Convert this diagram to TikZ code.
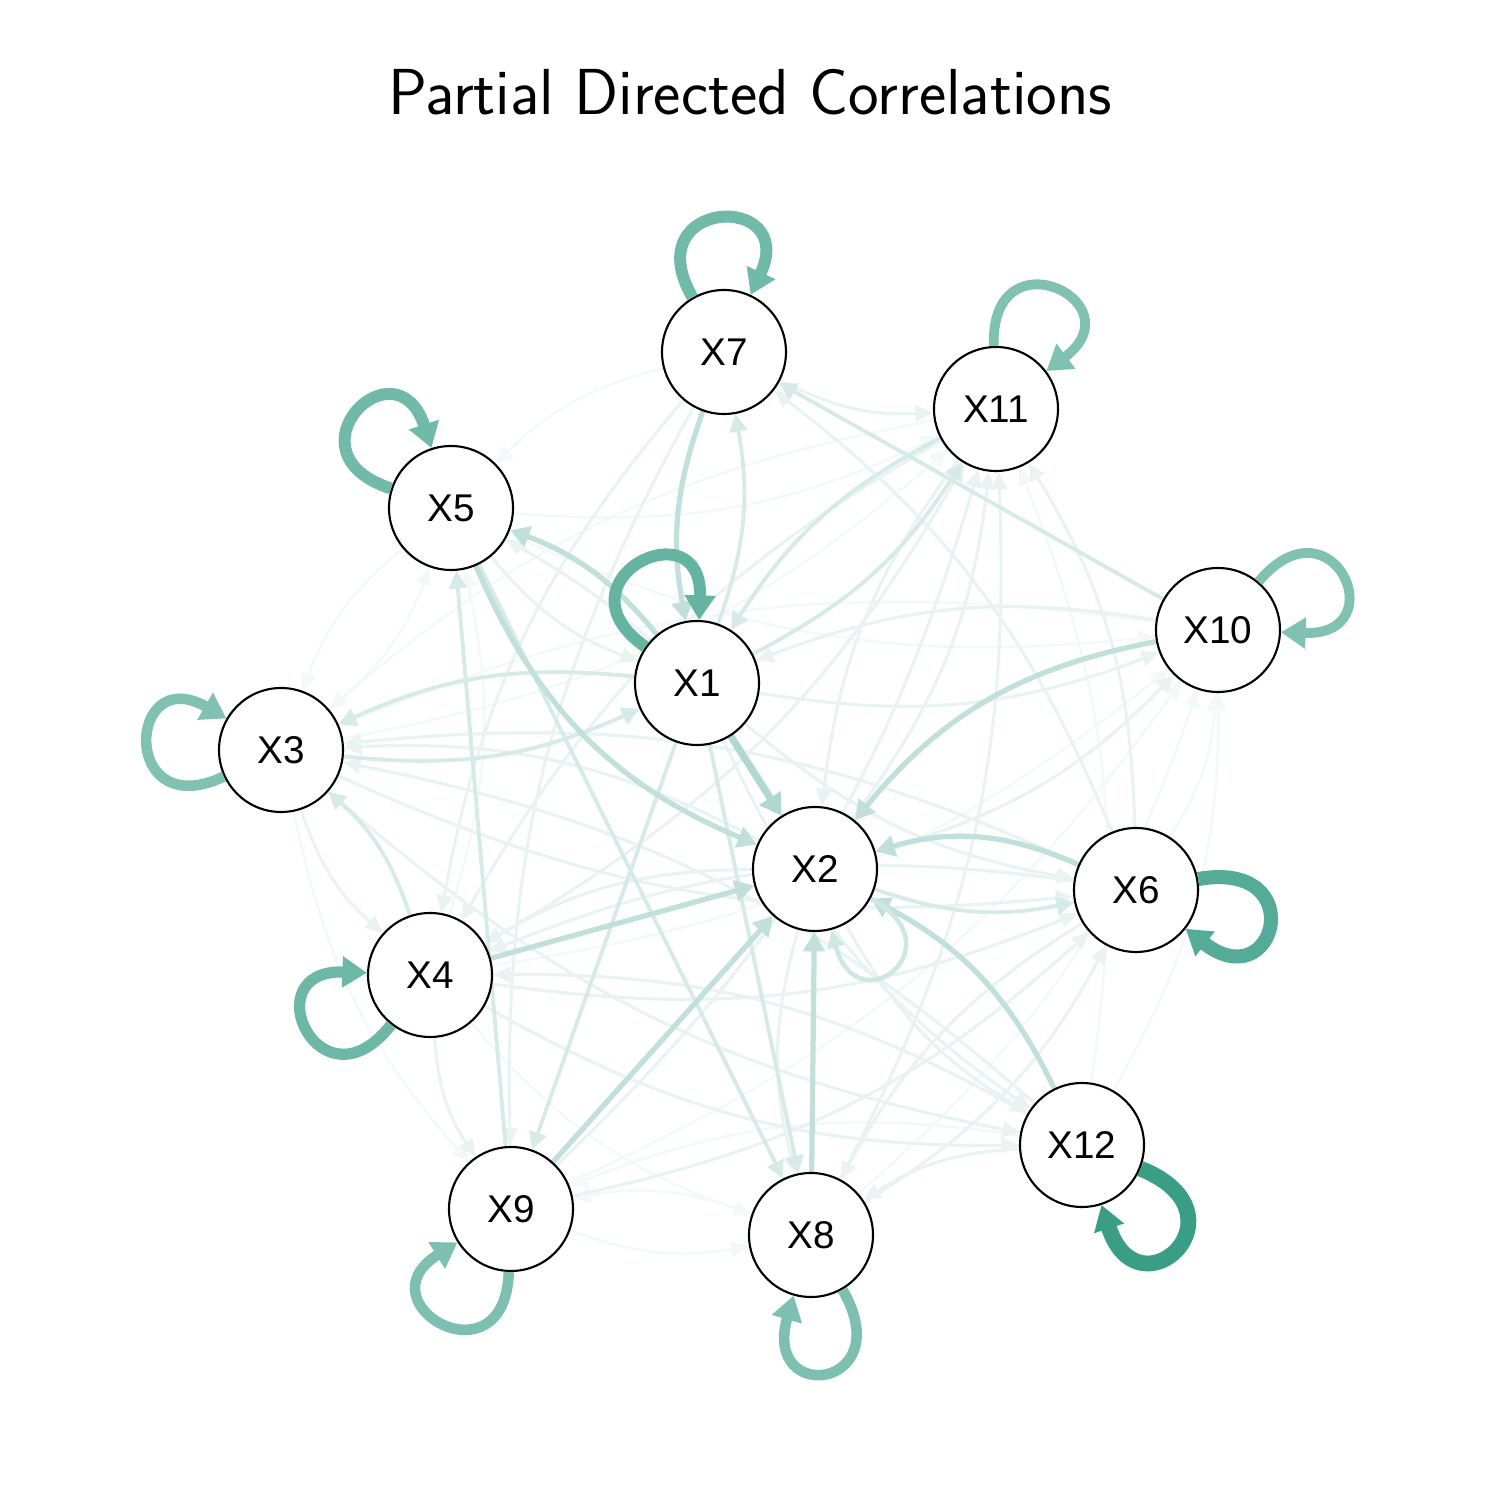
\documentclass[tikz,border=0pt]{standalone}
\usepackage{fontspec}
\usetikzlibrary{arrows.meta, backgrounds}
\newfontfamily\nodefont{Liberation Sans}
\definecolor{pdcteal}{RGB}{58,158,135}

\begin{document}
\begin{tikzpicture}[
  var/.style={draw, circle, fill=white, line width=0.6pt, minimum size=1.24cm,
              inner sep=0pt, font=\nodefont\fontsize{11}{13}\selectfont},
  eA/.style={-{Triangle[length=6pt, width=7pt]}, draw=pdcteal!40, line width=2pt},
  eB/.style={-{Triangle[length=5.5pt, width=6pt]}, draw=pdcteal!32, line width=1.5pt},
  eC/.style={-{Triangle[length=5pt, width=5pt]}, draw=pdcteal!21, line width=1.1pt},
  eD/.style={-{Triangle[length=5pt, width=4.5pt]}, draw=pdcteal!11, line width=0.9pt},
  eE/.style={-{Triangle[length=5pt, width=4.5pt]}, draw=pdcteal!6, line width=0.7pt},
  lp/.style={-{Triangle[length=7pt, width=8.5pt]}, distance=1.15cm},
  tw/.style={bend right=15}]
\useasboundingbox (0,0) rectangle (15,15);
\node[font=\sffamily\fontsize{18.5}{22}\selectfont] (title) at (7.5,14.08) {Partial Directed Correlations};

% variables
\node[var] (X1) at (6.97,8.17) {X1};
\node[var] (X2) at (8.15,6.31) {X2};
\node[var] (X3) at (2.81,7.50) {X3};
\node[var] (X4) at (4.30,5.25) {X4};
\node[var] (X5) at (4.51,9.92) {X5};
\node[var] (X6) at (11.36,6.10) {X6};
\node[var] (X7) at (7.24,11.48) {X7};
\node[var] (X8) at (8.11,2.65) {X8};
\node[var] (X9) at (5.11,2.91) {X9};
\node[var] (X10) at (12.18,8.70) {X10};
\node[var] (X11) at (9.96,10.91) {X11};
\node[var] (X12) at (10.82,3.55) {X12};

\begin{scope}[on background layer]
% very weak edges
\draw[eE] (X10) to[tw] (X3); \draw[eE] (X5) to[tw] (X3); \draw[eE] (X3) to[tw] (X9);
\draw[eE] (X7) to[tw] (X5); \draw[eE] (X4) to[tw] (X5); \draw[eE] (X3) to[tw] (X5);
\draw[eE] (X5) to[tw] (X11); \draw[eE] (X5) to[tw] (X10); \draw[eE] (X3) to[tw] (X11);
\draw[eE] (X11) to[tw] (X3); \draw[eE] (X9) to[tw] (X10); \draw[eE] (X6) to[tw] (X10);
\draw[eE] (X12) to[tw] (X10); \draw[eE] (X12) to[tw] (X9); \draw[eE] (X12) to[tw] (X11);
\draw[eE] (X9) to[tw] (X8); \draw[eE] (X8) to[tw] (X9); \draw[eE] (X4) to[tw] (X8);
\draw[eE] (X4) to[tw] (X10); \draw[eE] (X8) to[tw] (X10);
% weak edges
\draw[eD] (X2) to[tw] (X3); \draw[eD] (X6) to[tw] (X3); \draw[eD] (X12) to[tw] (X3);
\draw[eD] (X3) to[tw] (X4); \draw[eD] (X3) to[tw] (X6); \draw[eD] (X3) to[tw] (X12);
\draw[eD] (X5) to[tw] (X1); \draw[eD] (X2) to[tw] (X5); \draw[eD] (X6) to[tw] (X7);
\draw[eD] (X7) to[tw] (X11); \draw[eD] (X7) to[tw] (X9); \draw[eD] (X7) to[tw] (X4);
\draw[eD] (X6) to[tw] (X11); \draw[eD] (X4) to[tw] (X11); \draw[eD] (X2) to[tw] (X11);
\draw[eD] (X8) to[tw] (X11); \draw[eD] (X11) to[tw] (X2); \draw[eD] (X11) to[tw] (X4);
\draw[eD] (X10) to[tw] (X1); \draw[eD] (X1) to[tw] (X10); \draw[eD] (X2) to[tw] (X10);
\draw[eD] (X4) to[tw] (X6); \draw[eD] (X1) to[tw] (X6); \draw[eD] (X9) to[tw] (X6);
\draw[eD] (X8) to[tw] (X6); \draw[eD] (X6) to[tw] (X8); \draw[eD] (X6) to[tw] (X4);
\draw[eD] (X4) to[tw] (X12); \draw[eD] (X1) to[tw] (X12); \draw[eD] (X2) to[tw] (X12);
\draw[eD] (X12) to[tw] (X8); \draw[eD] (X12) to[tw] (X4); \draw[eD] (X4) to[tw] (X9);
\draw[eD] (X2) to[tw] (X8); \draw[eD] (X9) to[tw] (X11); \draw[eD] (X2) to[tw] (X4);
% medium edges
\draw[eC] (X1) to[tw] (X7); \draw[eC] (X1) to[tw] (X11); \draw[eC] (X11) to[tw] (X1);
\draw[eC] (X1) -- (X9); \draw[eC] (X1) -- (X8); \draw[eC] (X4) to[tw] (X3);
\draw[eC] (X2) to[tw] (X6); \draw[eC] (X5) -- (X8); \draw[eC] (X9) -- (X5);
\draw[eC] (X10) -- (X7); \draw[eC] (X3) to[tw] (X1); \draw[eC] (X1) to[tw] (X3);
% strong edges
\draw[eB] (X5) to[bend right=22] (X2); \draw[eB] (X10) to[bend right=20] (X2);
\draw[eB] (X6) to[bend right=20] (X2); \draw[eB] (X12) to[bend right=18] (X2);
\draw[eB] (X4) -- (X2); \draw[eB] (X9) -- (X2); \draw[eB] (X8) -- (X2);
\draw[eB] (X1) to[tw] (X5); \draw[eB] (X7) to[tw] (X1);
\draw[eA] (X1) -- (X2);
\draw[eD, line width=1.3pt, draw=pdcteal!25] (X2) to[out=-28, in=-75, distance=1cm] (X2);
\end{scope}

% self loops
\draw[lp, draw=pdcteal!72, line width=3.4pt] (X7) to[out=120, in=65] (X7);
\draw[lp, draw=pdcteal!64, line width=2.8pt] (X11) to[out=92, in=37] (X11);
\draw[lp, draw=pdcteal!72, line width=3.4pt] (X5) to[out=162, in=108] (X5);
\draw[lp, draw=pdcteal!78, line width=3.4pt] (X1) to[out=145, in=88] (X1);
\draw[lp, draw=pdcteal!64, line width=2.8pt] (X10) to[out=50, in=-2] (X10);
\draw[lp, draw=pdcteal!64, line width=3pt] (X3) to[out=205, in=150] (X3);
\draw[lp, draw=pdcteal!87, line width=4pt] (X6) to[out=10, in=-38] (X6);
\draw[lp, draw=pdcteal!74, line width=3.2pt] (X4) to[out=232, in=178] (X4);
\draw[lp, draw=pdcteal, line width=4.5pt, distance=1.2cm] (X12) to[out=-22, in=-72] (X12);
\draw[lp, draw=pdcteal!66, line width=3pt] (X9) to[out=268, in=212] (X9);
\draw[lp, draw=pdcteal!66, line width=3pt] (X8) to[out=-60, in=-106] (X8);
\end{tikzpicture}
\end{document}
